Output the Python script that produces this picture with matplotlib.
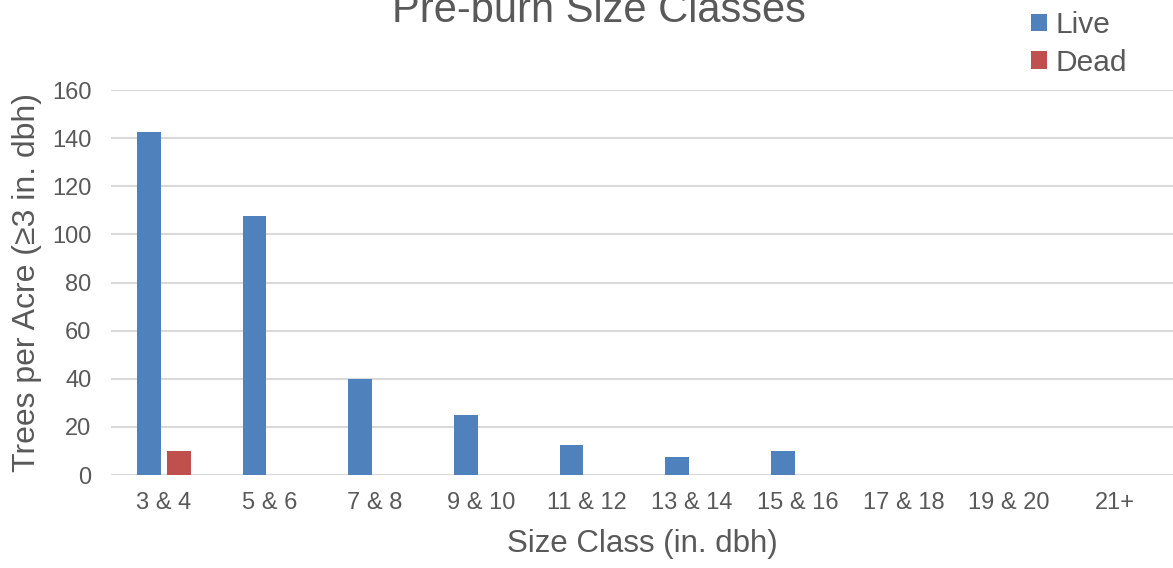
import matplotlib
matplotlib.use("Agg")
import matplotlib.pyplot as plt
import numpy as np

categories = ["3 & 4", "5 & 6", "7 & 8", "9 & 10", "11 & 12", "13 & 14",
              "15 & 16", "17 & 18", "19 & 20", "21+"]
live = [142.5, 107.5, 40, 25, 12.5, 7.5, 10, 0, 0, 0]
dead = [10, 0, 0, 0, 0, 0, 0, 0, 0, 0]
yticks = [0, 20, 40, 60, 80, 100, 120, 140, 160]

plt.rcParams['font.family'] = ['Liberation Sans', 'DejaVu Sans']
grey = '#595959'

fig = plt.figure(figsize=(11.73, 5.68), dpi=100)
ax = fig.add_axes([0.0946, 0.1637, 0.9054, 0.6778])

x = np.arange(len(categories))
w = 0.226
off = 0.142
ax.bar(x - off, live, width=w, color='#4F81BD', label='Live', zorder=3)
ax.bar(x + off, dead, width=w, color='#C0504D', label='Dead', zorder=3)

ax.set_xlim(-0.5, len(categories) - 0.45)
ax.set_ylim(0, 160)
ax.set_yticks(yticks)
ax.set_xticks(x)
ax.set_xticklabels(categories)
ax.yaxis.grid(True, color='#d9d9d9', linewidth=1.5, zorder=0)
ax.set_axisbelow(True)
for s in ax.spines.values():
    s.set_visible(False)
ax.tick_params(axis='both', length=0, labelsize=17, colors=grey)
ax.tick_params(axis='x', pad=12)
ax.tick_params(axis='y', pad=14)

ax.set_xlabel("Size Class (in. dbh)", fontsize=22.5, color=grey, labelpad=11)
ax.set_ylabel("Trees per Acre (\u22653 in. dbh)", fontsize=23, color=grey, labelpad=7)

fig.text(0.511, 0.961, "Pre-burn Size Classes", ha='center', va='baseline',
         fontsize=30, color=grey)

leg = fig.legend(loc='upper right', bbox_to_anchor=(0.984, 1.028), frameon=False,
                 fontsize=21.5, handlelength=0.53, handleheight=0.53,
                 handletextpad=0.3, labelspacing=0.33)
for t in leg.get_texts():
    t.set_color(grey)

fig.savefig("out.png", dpi=100)
